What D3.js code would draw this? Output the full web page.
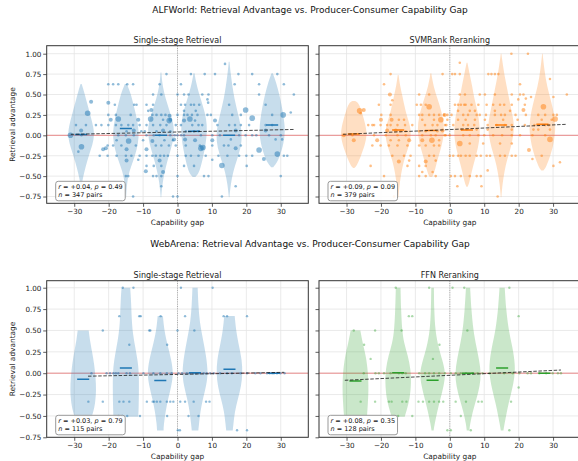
<!DOCTYPE html>
<html><head><meta charset="utf-8">
<script src="https://cdn.jsdelivr.net/npm/d3@7"></script>
<style>body{margin:0;background:#fff}svg{display:block;font-family:"DejaVu Sans",sans-serif}</style>
</head><body><svg id="c" width="578" height="461"></svg>
<script>
// ---------- shared ticks ----------
const gapTicks = [-30, -20, -10, 0, 10, 20, 30];
const advTicks = [-0.75, -0.5, -0.25, 0, 0.25, 0.5, 0.75, 1.0];

// ---------- ALFWorld: Single-stage Retrieval ----------
const alfSingleCenters = [-28, -15, -4.8, 4.8, 15, 27.5];
const alfSingleMedians = [0.01, 0.085, 0.0, 0.05, 0.0, 0.125];
const alfSingleViolins = [
 [[0.63,0.04],[0.55,0.2],[0.4,0.45],[0.25,0.7],[0.1,0.95],[0,1],[-0.1,0.9],[-0.25,0.58],[-0.4,0.32],[-0.52,0.14],[-0.63,0.03]],
 [[0.63,0.08],[0.5,0.4],[0.35,0.62],[0.2,0.85],[0.05,1],[-0.1,0.95],[-0.25,0.7],[-0.38,0.4],[-0.5,0.16],[-0.65,0.06],[-0.76,0.02]],
 [[0.77,0.03],[0.6,0.12],[0.45,0.35],[0.3,0.65],[0.15,0.95],[0.05,1],[-0.1,0.9],[-0.25,0.6],[-0.4,0.35],[-0.55,0.15],[-0.68,0.06],[-0.76,0.02]],
 [[0.76,0.04],[0.65,0.15],[0.5,0.4],[0.35,0.7],[0.2,0.95],[0.05,1],[-0.1,0.9],[-0.25,0.72],[-0.4,0.5],[-0.48,0.3],[-0.51,0.1]],
 [[0.9,0.03],[0.75,0.12],[0.6,0.25],[0.45,0.4],[0.3,0.62],[0.15,0.85],[0,1],[-0.15,0.9],[-0.3,0.6],[-0.45,0.3],[-0.6,0.12],[-0.76,0.02]],
 [[0.76,0.05],[0.65,0.3],[0.5,0.55],[0.35,0.75],[0.2,0.9],[0.05,1],[-0.1,0.88],[-0.25,0.6],[-0.34,0.35],[-0.39,0.08]]
];
const alfSinglePoints = [
 [13.8,0.875,1],
 [-3.2,.75,1],[3.9,.75,1],[7.9,.75,1],[10.9,.75,1],[17.7,.75,1],[21.7,.75,1],[29,.75,1],
 [-20.1,.625,1],[-18.7,.625,1],[-17.2,.625,1],[-14.6,.625,1],[-12.9,.625,1],[-5.2,.625,1],[1,.625,1],[16.6,.625,1],[23.7,.625,1],[30.9,.625,1],
 [-7.1,.5,1],[-4.7,.5,1],[0,.5,1],[1.9,.5,1],[3.2,.5,1],[7.2,.5,1],[9,.5,1],[23.7,.5,1],[33.8,.5,1],
 [8.7,.44,1],[8.9,.4,1],[-25.1,.41,2],
 [-20.1,.4,2],[-18.2,.375,1],[-12.6,.375,1],[-11.9,.375,1],[-9,.375,1],[-7.1,.375,1],[1,.375,1],[2.2,.375,1],[3.9,.375,1],[4.8,.375,1],[6.3,.375,1],[15,.375,1],[25.6,.375,1],
 [-8.5,.3,1],[-7.6,.31,2],[19.8,.31,3],[1.9,.3,1],[5.3,.3,1],[-26.1,.27,3],
 [-20.1,.25,1],[-17.9,.25,1],[-13.6,.25,1],[-7.3,.25,1],[-6.1,.25,1],[-4.7,.25,1],[-3.5,.25,1],[-2.3,.24,2],[0,.25,1],[1.9,.25,1],[2.9,.25,1],[4.2,.25,1],[5.8,.25,1],[8.7,.25,1],[9.7,.25,1],[15.9,.25,1],[18.4,.25,1],[27.5,.25,1],[32.9,.28,1],[30.7,.25,3],
 [-19.4,.19,2],[-17.2,.2,3],[-11.4,.19,2],[-7.8,.2,3],[-4.2,.19,1],[-2.1,.19,2],[-2.4,.18,3],[1.9,.18,2],[3.6,.2,3],[5.1,.18,1],[10.9,.18,2],[21.7,.21,3],
 [-29.5,.125,1],[-26.6,.125,1],[-23.7,.125,1],[-22.1,.125,1],[-20.1,.125,1],[-17.9,.125,1],[-16.3,.125,1],[-14.3,.125,1],[-12.9,.125,1],[-11,.125,1],[-9,.125,1],[-7.1,.125,1],[-5,.125,1],[-3.2,.125,1],[-0.5,.125,1],[1,.125,1],[4.3,.125,1],[6.1,.125,1],[7.2,.125,1],[11.6,.125,1],[15,.125,1],[16.7,.125,1],[18.4,.125,1],[20.8,.125,1],[25.6,.125,1],[27.5,.125,1],
 [-14.8,.05,1],[-12.7,.06,2],[-10.5,.05,1],[-9.5,.05,1],[-6.1,.05,1],[-4.2,.06,2],[-2.1,.05,1],[2.4,.05,1],[4.8,.05,1],[6.1,.05,1],[16.9,.06,2],[25.6,.06,2],[-28,.06,2],
 [-31.1,0,3],[-27.9,0,1],[-17.2,0,1],[-15,0,1],[-12.7,0,1],[-9,0,1],[-6.9,0,1],[-5.2,0,1],[-2.1,0,1],[-0.8,0,1],[0,0,1],[1,0,1],[1.9,0,1],[6.8,0,1],[10.1,0,1],[12.3,0,1],[17.9,0,1],[19.8,0,1],[21.7,0,1],[22.9,0,1],[26.6,0,1],[30,0,1],
 [-17.7,-.06,1],[-14.2,-.07,3],[-10,-.06,1],[-7.3,-.07,2],[-3.8,-.06,1],[-1.3,-.06,1],[-1,-.05,2],[2.2,-.05,2],[5.1,-.06,2],[10.1,-.06,2],[15.5,-.05,1],[28.5,-.05,1],[30.4,-.05,1],
 [-20.3,-.125,1],[-18.7,-.125,1],[-16.3,-.125,1],[-12.1,-.125,1],[-6.3,-.125,1],[-4.7,-.125,1],[-2.5,-.125,1],[-0.5,-.125,1],[2.4,-.125,1],[6.5,-.125,1],[10.1,-.125,1],[13.5,-.125,1],[14.8,-.125,1],[18.4,-.125,1],[-27.9,-.14,3],
 [-21.6,-.17,2],[-20.8,-.16,2],[-14.8,-.17,2],[-9,-.17,2],[6.8,-.16,3],[7.4,-.15,3],[16.9,-.16,2],[23.7,-.18,3],[-28.8,-.2,1],
 [-22.6,-.25,1],[-20.3,-.25,1],[-17.7,-.25,1],[-15,-.25,1],[-13.4,-.25,1],[-11,-.25,1],[-9,-.25,1],[-7.3,-.25,1],[-6.3,-.25,1],[-5,-.25,1],[-3.9,-.25,1],[-2.8,-.25,1],[0,-.25,1],[2.4,-.25,1],[3.9,-.25,1],[6.1,-.25,1],[8.2,-.25,1],[11.9,-.25,1],[14.5,-.25,1],[17.9,-.25,1],[20,-.25,1],[21.7,-.25,1],[30.9,-.25,1],[31.9,-.25,1],[29,-.23,3],
 [-14.8,-.31,2],[-11.4,-.3,1],[-5.2,-.31,2],[10.1,-.3,1],[25.1,-.29,2],
 [-9,-.375,1],[-6.9,-.375,1],[-4.7,-.375,1],[1.9,-.375,1],[4.8,-.375,1],[12.9,-.37,3],[20.1,-.375,1],
 [-9.2,-.44,2],[-4.2,-.45,2],
 [-15,-.5,1],[-14.3,-.5,1],[-7.1,-.5,1],[-6.1,-.5,1],[-4.7,-.5,1],[0,-.5,1],[7.7,-.5,1],[9,-.5,1],[30,-.5,1],
 [-4.7,-.625,1],[16.9,-.625,1],
 [-12.9,-.75,1],[-1.3,-.75,1],[0,-.75,1],[12.9,-.75,1]
];
const alfSingleFit = [[-31, 0.012], [34, 0.072]];
const alfSingleStats = ["+0.04", "0.49", 347];

// ---------- ALFWorld: SVMRank Reranking ----------
const alfRerankCenters = [-27.9, -15, -5.5, 5, 14.9, 26.9];
const alfRerankMedians = [0.015, 0.065, 0.06, 0.065, 0.125, 0.135];
const alfRerankViolins = [
 [[0.42,0.1],[0.4,0.35],[0.32,0.55],[0.2,0.78],[0.08,0.95],[0,1],[-0.12,0.85],[-0.25,0.55],[-0.34,0.32],[-0.39,0.15],[-0.4,0.05]],
 [[0.74,0.03],[0.6,0.15],[0.5,0.3],[0.3,0.55],[0.15,0.85],[0.05,1],[-0.1,0.9],[-0.25,0.55],[-0.4,0.3],[-0.55,0.15],[-0.68,0.06],[-0.76,0.02]],
 [[0.76,0.03],[0.6,0.2],[0.45,0.5],[0.3,0.8],[0.15,1],[0,1],[-0.15,0.8],[-0.3,0.5],[-0.45,0.28],[-0.51,0.1]],
 [[0.89,0.03],[0.75,0.2],[0.6,0.4],[0.45,0.55],[0.3,0.8],[0.15,0.95],[0,1],[-0.15,0.85],[-0.3,0.6],[-0.45,0.35],[-0.58,0.18],[-0.63,0.05]],
 [[1.0,0.02],[0.85,0.15],[0.7,0.3],[0.5,0.55],[0.3,0.8],[0.15,1],[0,0.95],[-0.15,0.75],[-0.3,0.45],[-0.45,0.25],[-0.6,0.1],[-0.76,0.02]],
 [[1.0,0.02],[0.8,0.15],[0.6,0.35],[0.4,0.7],[0.25,0.9],[0.1,1],[0,0.95],[-0.15,0.8],[-0.3,0.5],[-0.4,0.25],[-0.43,0.08]]
];
const alfRerankPoints = [
 [17.9,1,1],[22.7,1,1],[2.9,.89,1],
 [-17.2,.75,1],[-2.1,.75,1],[0.7,.75,1],[1.5,.75,1],[2.9,.75,1],[11.2,.75,1],[12.1,.75,1],[13.1,.75,1],[14.1,.75,1],
 [29.1,.69,1],[-19.1,.625,1],[20.4,.625,1],
 [-17.4,.5,2],[-8.9,.5,1],[-6,.5,1],[2.9,.5,1],[4.4,.5,1],[8.7,.5,1],[10.2,.5,1],[13.1,.5,1],[18,.5,1],[20.4,.5,1],[21.4,.5,1],[34,.5,1],
 [-16.7,.43,1],[19.9,.44,1],[22.1,.45,1],[23.6,.47,1],[30.1,.47,1],
 [-20.6,.375,1],[-17.2,.375,1],[-9.6,.375,1],[-8.4,.375,1],[-7,.375,1],[1.5,.375,1],[2.4,.375,1],[3.2,.375,1],[4.2,.375,1],[4.6,.375,1],[6.3,.375,1],[8.3,.375,1],[10.7,.375,1],[12.6,.375,1],[14.6,.375,1],[15.8,.375,1],[18,.375,1],[21.8,.375,1],[27.2,.35,3],[-6,.35,3],
 [-26.2,.3,3],[-25,.31,2],[2.4,.3,1],[5.8,.3,1],[7.3,.3,1],[13.1,.3,1],[17.5,.3,1],[21.4,.31,2],[-25.9,.27,1],
 [-19.9,.25,1],[-17.2,.25,1],[-8.9,.25,1],[-8,.25,1],[-6,.25,1],[-4.6,.25,1],[-3.1,.25,1],[-1.7,.25,1],[-0.7,.25,1],[-1.5,.25,2],[0.5,.25,1],[3.9,.25,1],[5.3,.25,1],[7.8,.25,1],[8.7,.25,1],[10.5,.25,1],[13.1,.25,1],[14.9,.25,1],[16,.25,1],[19.1,.25,1],[22.1,.25,1],[25.7,.25,1],[27.7,.25,1],[30.1,.25,1],[31.1,.25,1],
 [-20,.19,2],[-16.9,.19,2],[-14.8,.19,1],[-13.3,.19,1],[-8,.19,1],[-4.6,.19,1],[-2.6,.19,3],[-0.7,.19,1],[2.4,.19,1],[4.6,.19,1],[7.3,.19,1],[10.2,.19,1],[15.5,.19,1],[19.7,.19,1],[26.7,.19,1],[30.6,.2,3],[29.6,.19,1],
 [-23.7,.125,1],[-22.5,.125,1],[-22,.125,1],[-20.1,.125,1],[-18.2,.125,1],[-17.2,.125,1],[-15.2,.125,1],[-13,.125,1],[-10.9,.125,1],[-7.2,.125,1],[-5,.125,1],[-3.6,.125,1],[-1.4,.125,1],[-1,.125,1],[1,.125,1],[3.9,.125,1],[5.3,.125,1],[7.1,.125,1],[11,.125,1],[13.6,.125,1],[16,.125,1],[18,.125,1],[21.8,.125,1],[24.6,.125,1],[25.9,.125,1],[27.7,.125,1],[28.8,.125,1],
 [-18.2,.06,2],[-15.7,.06,2],[-14.3,.05,1],[-12.8,.05,1],[-8.9,.05,1],[-7,.05,1],[-3.6,.05,1],[-2.1,.06,2],[3.4,.07,1],[4.9,.07,1],[7.8,.07,1],[11,.07,1],[18,.07,1],[24.3,.07,1],[25.7,.07,1],[29.1,.07,1],
 [-30.8,0,2],[-28.3,0,1],[-22,0,1],[-18.6,0,1],[-15.2,0,1],[-12.8,0,1],[-8,0,1],[-5.5,0,1],[-4.1,0,1],[-1.2,0,1],[-1.5,0,1],[0,0,1],[3.9,0,1],[5.8,0,1],[8.3,0,1],[10,0,1],[12.6,0,1],[15.2,0,1],[18,0,1],[20.4,0,1],[24,0,1],[27.7,0,1],
 [-27.9,-.06,2],[-21.1,-.06,2],[-17.2,-.06,1],[-14.8,-.06,1],[-11.8,-.06,2],[-8,-.06,2],[-5.2,-.06,3],[-3.1,-.06,1],[29.1,-.05,3],
 [2.9,-.1,3],[5.8,-.1,1],[9.7,-.1,1],[14.6,-.1,1],[18,-.1,1],[23,-.18,2],
 [-22.5,-.125,1],[-20.1,-.125,1],[-17.7,-.125,1],[-15.2,-.125,1],[-12.3,-.125,1],[-8.9,-.125,1],[-7,-.125,1],[-4.6,-.125,1],[-3.1,-.125,1],
 [-16.7,-.25,1],[-13.3,-.25,1],[-11.4,-.25,1],[-6,-.25,1],[-4.6,-.25,1],[0,-.25,1],[1,-.25,1],[2.4,-.25,1],[3.2,-.25,1],[4.6,-.25,1],[5.8,-.25,1],[7.8,-.25,1],[9,-.25,1],[10.7,-.25,1],[11.7,-.25,1],[14.6,-.25,1],[16,-.25,1],[18,-.25,1],[19.1,-.25,1],[24,-.29,1],[26.7,-.25,1],
 [-14.8,-.32,2],[-11.8,-.31,1],[-7,-.32,2],[-4.1,-.31,1],[32,-.33,1],
 [-23,-.375,1],[-12.3,-.375,1],[-8.9,-.375,1],[-7,-.375,1],[30.1,-.375,1],
 [-8,-.45,1],[-5,-.45,1],[11,-.43,1],
 [-19.1,-.5,1],[-8.9,-.5,1],[-7,-.5,1],[-4.1,-.5,1],[0.3,-.5,1],[1.5,-.5,1],[3.2,-.5,1],[5.8,-.5,1],[7.8,-.5,1],[9,-.5,1],
 [2.2,-.625,1],[9.2,-.625,1],
 [-16.2,-.75,1],[13.9,-.75,1]
];
const alfRerankFit = [[-31, 0.012], [34, 0.135]];
const alfRerankStats = ["+0.09", "0.09", 379];

// ---------- WebArena: Single-stage Retrieval ----------
const webSingleCenters = [-27.4, -15, -5, 5.1, 15.1, 28];
const webSingleMedians = [-0.07, 0.06, -0.085, 0.005, 0.045, 0.0];
const webSingleViolins = [
 [[0.5,0.42],[0.4,0.5],[0.25,0.68],[0.1,0.85],[-0.05,0.95],[-0.2,1],[-0.35,0.92],[-0.45,0.78],[-0.51,0.65]],
 [[1.0,0.33],[0.85,0.4],[0.6,0.45],[0.45,0.55],[0.3,0.72],[0.15,0.9],[0,1],[-0.2,1],[-0.4,0.98],[-0.51,0.95]],
 [[0.67,0.2],[0.5,0.3],[0.3,0.6],[0.15,0.85],[0,1],[-0.15,0.85],[-0.3,0.6],[-0.45,0.4],[-0.6,0.27],[-0.67,0.25]],
 [[1.0,0.2],[0.8,0.25],[0.6,0.35],[0.4,0.6],[0.2,0.85],[0,1],[-0.15,0.85],[-0.3,0.6],[-0.45,0.4],[-0.6,0.3],[-0.67,0.25]],
 [[0.67,0.4],[0.5,0.5],[0.3,0.75],[0.15,0.95],[0,1],[-0.15,0.9],[-0.3,0.65],[-0.45,0.4],[-0.6,0.3],[-0.67,0.25]],
 null
];
const webSinglePoints = [
 [-15.9,1],[-12.8,1],[1,1],[10.2,1],
 [-16.9,.667],[-11.1,.667],[-10.7,.667],[-4.9,.667],[2.2,.667],[13.4,.667],[14.4,.667],[20.2,.667],
 [-21.7,.5],[-8.2,.5],[-7.9,.5],[0,.5],[4.9,.5],
 [-14,.333],[-3,.333],
 [-25,0],[-20.6,0],[-19.6,0],[-18.6,0],[-17.9,0],[-17.2,0],[-14.8,0],[-13.8,0],[-9.9,0],[-7,0],[-5,0],[-3.1,0],[-1.7,0],[0.3,0],[1.3,0],[2.7,0],[3.5,0],[4.7,0],[5.4,0],[6.4,0],[7.6,0],[8.5,0],[9.5,0],[10.5,0],[12.4,0],[14.4,0],[15.8,0],[18.3,0],[20.2,0],[22.6,0],[24.1,0],[26,0],[26.8,0],[27.5,0],[28,0],[28.9,0],[29.9,0],[31.1,0],
 [-25.9,-.333],[-21.7,-.333],[-16.9,-.333],[-15.7,-.333],[-14,-.333],[-8.9,-.333],[-7.2,-.333],[-6.8,-.333],[-6,-.333],[-5,-.333],[-3.1,-.333],[-2.1,-.333],[-1.2,-.333],[0.8,-.333],[2.2,-.333],[4.7,-.333],[8.3,-.333],[9.3,-.333],
 [-17.1,-.5],[-16,-.5],[-14.6,-.5],[-10.9,-.5],[-3,-.5],[3.2,-.5],[6.1,-.5],
 [0.1,-.667],[0.7,-.667],[17.3,-.667],[20.2,-.667]
];
const webSingleFit = [[-26, -0.035], [31, 0.01]];
const webSingleStats = ["+0.03", "0.79", 115];

// ---------- WebArena: FFN Reranking ----------
const webFfnCenters = [-27.4, -15, -5, 5.3, 15.2, 27.5];
const webFfnMedians = [-0.09, 0.005, -0.083, 0.0, 0.06, 0.0];
const webFfnViolins = [
 [[0.5,0.37],[0.35,0.55],[0.2,0.8],[0,0.97],[-0.2,1],[-0.35,0.95],[-0.5,0.88]],
 [[1.0,0.18],[0.75,0.22],[0.5,0.3],[0.35,0.45],[0.2,0.75],[0.05,0.95],[-0.1,1],[-0.3,0.9],[-0.45,0.62],[-0.51,0.5]],
 [[1.0,0.1],[0.75,0.12],[0.5,0.2],[0.3,0.45],[0.15,0.75],[0,1],[-0.15,0.85],[-0.3,0.6],[-0.45,0.35],[-0.6,0.15],[-0.67,0.08]],
 [[1.0,0.16],[0.75,0.25],[0.5,0.4],[0.3,0.65],[0.15,0.85],[0,1],[-0.15,0.9],[-0.3,0.65],[-0.45,0.35],[-0.6,0.15],[-0.67,0.1]],
 [[1.0,0.2],[0.75,0.3],[0.5,0.5],[0.3,0.8],[0.1,1],[-0.05,0.95],[-0.2,0.75],[-0.35,0.5],[-0.5,0.3],[-0.62,0.15],[-0.67,0.1]],
 null
];
const webFfnPoints = [
 [-15.7,1],[-6,1],[0.8,1],[4.2,1],[17.3,1],
 [-11.9,.667],[-10.9,.667],[20,.667],
 [-27.9,.5],[-21.7,.5],[-14,.5],[5.1,.5],
 [-24.9,.333],[-3,.333],
 [-23,.167],[-4.9,.167],
 [-25,0],[-21.6,0],[-20.6,0],[-19.1,0],[-17.2,0],[-14.8,0],[-13.8,0],[-12.8,0],[-8.9,0],[-7.2,0],[-6,0],[-4.6,0],[-3.1,0],[-1.4,0],[0.3,0],[1.7,0],[3.2,0],[4.7,0],[6.6,0],[8.1,0],[9.5,0],[11.5,0],[15.8,0],[18.3,0],[20.2,0],[22.6,0],[23.6,0],[26,0],[28,0],[29.9,0],[31.4,0],[32.3,0],
 [20,-.167],
 [-25.9,-.333],[-21.7,-.333],[-17.7,-.333],[-16.9,-.333],[-13.8,-.333],[-12.6,-.333],[-9.1,-.333],[-7.8,-.333],[-6,-.333],[-4.6,-.333],[-3.1,-.333],[-1.9,-.333],[1.7,-.333],[4.7,-.333],[8.3,-.333],[9.3,-.333],[17.8,-.333],
 [-15,-.5],[-10.9,-.5],[3.2,-.5],
 [-0.7,-.667],[0.3,-.667],[6.1,-.667],[17.3,-.667]
];
const webFfnFit = [[-30.5, -0.083], [32.3, 0.037]];
const webFfnStats = ["+0.08", "0.35", 128];

// ---------- drawing ----------
const svg = d3.select("#c");
const FONT = '"DejaVu Sans", sans-serif';
let clipN = 0;

function drawPanel(o) {
  const x = d3.scaleLinear().domain([-38, 38]).range([o.x0, o.x1]);
  const y = d3.scaleLinear().domain(o.ydom).range([o.y1, o.y0]);
  const g = svg.append("g");
  const cid = "clip" + (clipN++);
  svg.append("clipPath").attr("id", cid).append("rect")
    .attr("x", o.x0).attr("y", o.y0).attr("width", o.x1 - o.x0).attr("height", o.y1 - o.y0);
  const inner = g.append("g").attr("clip-path", `url(#${cid})`);

  // grid
  inner.selectAll(".gx").data(gapTicks).join("line")
    .attr("x1", d => x(d)).attr("x2", d => x(d)).attr("y1", o.y0).attr("y2", o.y1)
    .attr("stroke", "#e4e4e4").attr("stroke-width", 0.8);
  inner.selectAll(".gy").data(advTicks).join("line")
    .attr("y1", d => y(d)).attr("y2", d => y(d)).attr("x1", o.x0).attr("x2", o.x1)
    .attr("stroke", "#e4e4e4").attr("stroke-width", 0.8);
  // zero reference lines
  inner.append("line").attr("x1", o.x0).attr("x2", o.x1).attr("y1", y(0)).attr("y2", y(0))
    .attr("stroke", "#e98a8a").attr("stroke-width", 1);
  inner.append("line").attr("x1", x(0)).attr("x2", x(0)).attr("y1", o.y0).attr("y2", o.y1)
    .attr("stroke", "#999").attr("stroke-width", 0.8).attr("stroke-dasharray", "1,1.3");

  // violins
  const hw = 3.8;
  o.violins.forEach((prof, i) => {
    if (!prof) return;
    const c = o.centers[i];
    const area = d3.area()
      .y(d => y(d[0]))
      .x0(d => x(c - hw * d[1]))
      .x1(d => x(c + hw * d[1]))
      .curve(d3.curveBasis);
    inner.append("path").attr("d", area(prof)).attr("fill", o.color).attr("fill-opacity", 0.25);
  });

  // points
  const rr = {1: 1.3, 2: 2.0, 3: 2.8};
  inner.selectAll(".pt").data(o.points).join("circle")
    .attr("cx", d => x(d[0])).attr("cy", d => y(d[1]))
    .attr("r", d => d.length > 2 ? rr[d[2]] : 1.2)
    .attr("fill", o.color).attr("fill-opacity", o.ptAlpha);

  // medians
  inner.selectAll(".md").data(o.medians).join("line")
    .attr("x1", (d, i) => x(o.centers[i] - 1.75)).attr("x2", (d, i) => x(o.centers[i] + 1.75))
    .attr("y1", d => y(d)).attr("y2", d => y(d))
    .attr("stroke", o.color).attr("stroke-width", 1.5);

  // fit line
  inner.append("line")
    .attr("x1", x(o.fit[0][0])).attr("y1", y(o.fit[0][1]))
    .attr("x2", x(o.fit[1][0])).attr("y2", y(o.fit[1][1]))
    .attr("stroke", "#111").attr("stroke-opacity", 0.85).attr("stroke-width", 0.9)
    .attr("stroke-dasharray", "3.5,1.6");

  // axes
  const ax = g.append("g").attr("transform", `translate(0,${o.y1})`)
    .call(d3.axisBottom(x).tickValues(gapTicks).tickSizeInner(3.5).tickSizeOuter(0).tickPadding(2.2));
  const ay = g.append("g").attr("transform", `translate(${o.x0},0)`)
    .call(d3.axisLeft(y).tickValues(advTicks).tickSizeInner(3.5).tickSizeOuter(0).tickPadding(1.8)
      .tickFormat(o.showY ? d3.format(".2f") : () => ""));
  [ax, ay].forEach(a => {
    a.select(".domain").remove();
    a.selectAll(".tick line").attr("stroke", "#333").attr("stroke-width", 0.8);
    a.selectAll("text").attr("font-family", FONT).attr("font-size", 7.2).attr("fill", "#222");
  });
  // spines
  g.append("rect").attr("x", o.x0).attr("y", o.y0).attr("width", o.x1 - o.x0).attr("height", o.y1 - o.y0)
    .attr("fill", "none").attr("stroke", "#333").attr("stroke-width", 1);

  // titles
  g.append("text").attr("x", (o.x0 + o.x1) / 2).attr("y", o.y0 - 3)
    .attr("text-anchor", "middle").attr("font-family", FONT).attr("font-size", 8).attr("fill", "#222").text(o.title);
  g.append("text").attr("x", (o.x0 + o.x1) / 2).attr("y", o.y1 + 21.8)
    .attr("text-anchor", "middle").attr("font-family", FONT).attr("font-size", 7.4).attr("fill", "#222").text("Capability gap");
  if (o.showY) {
    g.append("text").attr("transform", `translate(12.2,${(o.y0 + o.y1) / 2}) rotate(-90)`)
      .attr("text-anchor", "middle").attr("dominant-baseline", "central")
      .attr("font-family", FONT).attr("font-size", 7.4).attr("fill", "#222").text("Retrieval advantage");
  }

  // stats box
  const bx = o.x0 + 9, btop = o.y1 - 22;
  const sg = g.append("g");
  const rect = sg.append("rect");
  const t1 = sg.append("text").attr("x", bx + 2.5).attr("y", btop + 7.2)
    .attr("font-family", FONT).attr("font-size", 6.5).attr("fill", "#111");
  t1.append("tspan").attr("font-style", "italic").text("r");
  t1.append("tspan").text(` = ${o.stats[0]}, `);
  t1.append("tspan").attr("font-style", "italic").text("p");
  t1.append("tspan").text(` = ${o.stats[1]}`);
  const t2 = sg.append("text").attr("x", bx + 2.5).attr("y", btop + 15.4)
    .attr("font-family", FONT).attr("font-size", 6.5).attr("fill", "#111");
  t2.append("tspan").attr("font-style", "italic").text("n");
  t2.append("tspan").text(` = ${o.stats[2]} pairs`);
  const w = Math.max(t1.node().getComputedTextLength(), t2.node().getComputedTextLength());
  rect.attr("x", bx).attr("y", btop).attr("width", w + 5).attr("height", 19.5).attr("rx", 2.5)
    .attr("fill", "#fff").attr("fill-opacity", 0.85).attr("stroke", "#999").attr("stroke-width", 1);
}

// layout
const L = {x0: 46.7, x1: 308.3}, R = {x0: 319, x1: 580.6};
const TOP = {y0: 45.7, y1: 203.3, ydom: [-0.833, 1.098]};
const BOT = {y0: 280.7, y1: 437.3, ydom: [-0.75, 1.082]};

svg.append("text").attr("x", 310).attr("y", 12.5).attr("text-anchor", "middle")
  .attr("font-family", FONT).attr("font-size", 9).attr("fill", "#111")
  .text("ALFWorld: Retrieval Advantage vs. Producer-Consumer Capability Gap");
svg.append("text").attr("x", 310).attr("y", 246.5).attr("text-anchor", "middle")
  .attr("font-family", FONT).attr("font-size", 9).attr("fill", "#111")
  .text("WebArena: Retrieval Advantage vs. Producer-Consumer Capability Gap");

drawPanel({...L, ...TOP, color: "#1f77b4", ptAlpha: 0.5, points: alfSinglePoints, violins: alfSingleViolins,
  centers: alfSingleCenters, medians: alfSingleMedians, fit: alfSingleFit, stats: alfSingleStats,
  title: "Single-stage Retrieval", showY: true});
drawPanel({...R, ...TOP, color: "#ff7f0e", ptAlpha: 0.5, points: alfRerankPoints, violins: alfRerankViolins,
  centers: alfRerankCenters, medians: alfRerankMedians, fit: alfRerankFit, stats: alfRerankStats,
  title: "SVMRank Reranking", showY: false});
drawPanel({...L, ...BOT, color: "#1f77b4", ptAlpha: 0.5, points: webSinglePoints, violins: webSingleViolins,
  centers: webSingleCenters, medians: webSingleMedians, fit: webSingleFit, stats: webSingleStats,
  title: "Single-stage Retrieval", showY: true});
drawPanel({...R, ...BOT, color: "#2ca02c", ptAlpha: 0.4, points: webFfnPoints, violins: webFfnViolins,
  centers: webFfnCenters, medians: webFfnMedians, fit: webFfnFit, stats: webFfnStats,
  title: "FFN Reranking", showY: false});
</script></body></html>
